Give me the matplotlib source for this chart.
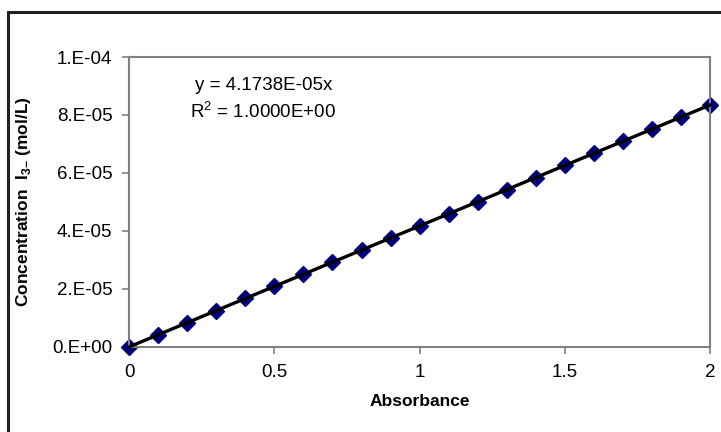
import numpy as np
import matplotlib.pyplot as plt
from matplotlib.lines import Line2D

plt.rcParams['font.family'] = ['Liberation Sans', 'DejaVu Sans']
plt.rcParams['mathtext.fontset'] = 'custom'
plt.rcParams['mathtext.rm'] = 'Liberation Sans'
plt.rcParams['mathtext.bf'] = 'Liberation Sans:bold'

absorbance = [0.0, 0.1, 0.2, 0.3, 0.4, 0.5, 0.6, 0.7, 0.8, 0.9, 1.0,
              1.1, 1.2, 1.3, 1.4, 1.5, 1.6, 1.7, 1.8, 1.9, 2.0]
concentration = [0.0, 4.17e-06, 8.35e-06, 1.252e-05, 1.67e-05, 2.087e-05,
                 2.504e-05, 2.922e-05, 3.339e-05, 3.756e-05, 4.174e-05,
                 4.591e-05, 5.009e-05, 5.426e-05, 5.843e-05, 6.261e-05,
                 6.678e-05, 7.095e-05, 7.513e-05, 7.93e-05, 8.348e-05]
slope = 4.1738e-05
xticks = [0, 0.5, 1, 1.5, 2]
xticklabels = ['0', '0.5', '1', '1.5', '2']
yticks = [0, 2e-05, 4e-05, 6e-05, 8e-05, 1e-04]
yticklabels = ['0.E+00', '2.E-05', '4.E-05', '6.E-05', '8.E-05', '1.E-04']

fig = plt.figure(figsize=(7.21, 4.32), dpi=100)
ax = fig.add_axes([0.179, 0.197, 0.806, 0.671])

ax.plot(absorbance, concentration, linestyle='none', marker='D', ms=8,
        color='#00007a', zorder=2, clip_on=False)
fit_x = np.array([absorbance[0], absorbance[-1]])
ax.plot(fit_x, slope * fit_x, color='black', lw=2.4, zorder=3, clip_on=False)

ax.set_xlim(0, 2)
ax.set_ylim(0, 1e-04)
ax.set_xticks(xticks)
ax.set_xticklabels(xticklabels, fontsize=13.5)
ax.set_yticks(yticks)
ax.set_yticklabels(yticklabels, fontsize=13.5)
ax.tick_params(direction='out', length=5, width=1.2, color='#808080', pad=7)

for s in ax.spines.values():
    s.set_color('#808080')
    s.set_linewidth(1.5)

ax.set_xlabel('Absorbance', fontsize=12.5, fontweight='bold', labelpad=10)
ax.set_ylabel(r'Concentration  I$_{\mathbf{3}\mathbf{-}}$ (mol/L)', fontsize=12.5,
              fontweight='bold', labelpad=14)

ax.text(0.231, 0.903, 'y = 4.1738E-05x', transform=ax.transAxes, fontsize=13.5,
        ha='center', va='center')
ax.text(0.231, 0.812, r'R$^{2}$ = 1.0000E+00', transform=ax.transAxes,
        fontsize=13.5, ha='center', va='center')

# outer chart border (only top and left visible)
fig.add_artist(Line2D([8 / 721, 1], [1 - 12 / 432, 1 - 12 / 432],
                      transform=fig.transFigure, color='#222222', lw=2.2))
fig.add_artist(Line2D([8 / 721, 8 / 721], [0, 1 - 12 / 432],
                      transform=fig.transFigure, color='#222222', lw=2.2))

fig.savefig('out.png', dpi=100)
